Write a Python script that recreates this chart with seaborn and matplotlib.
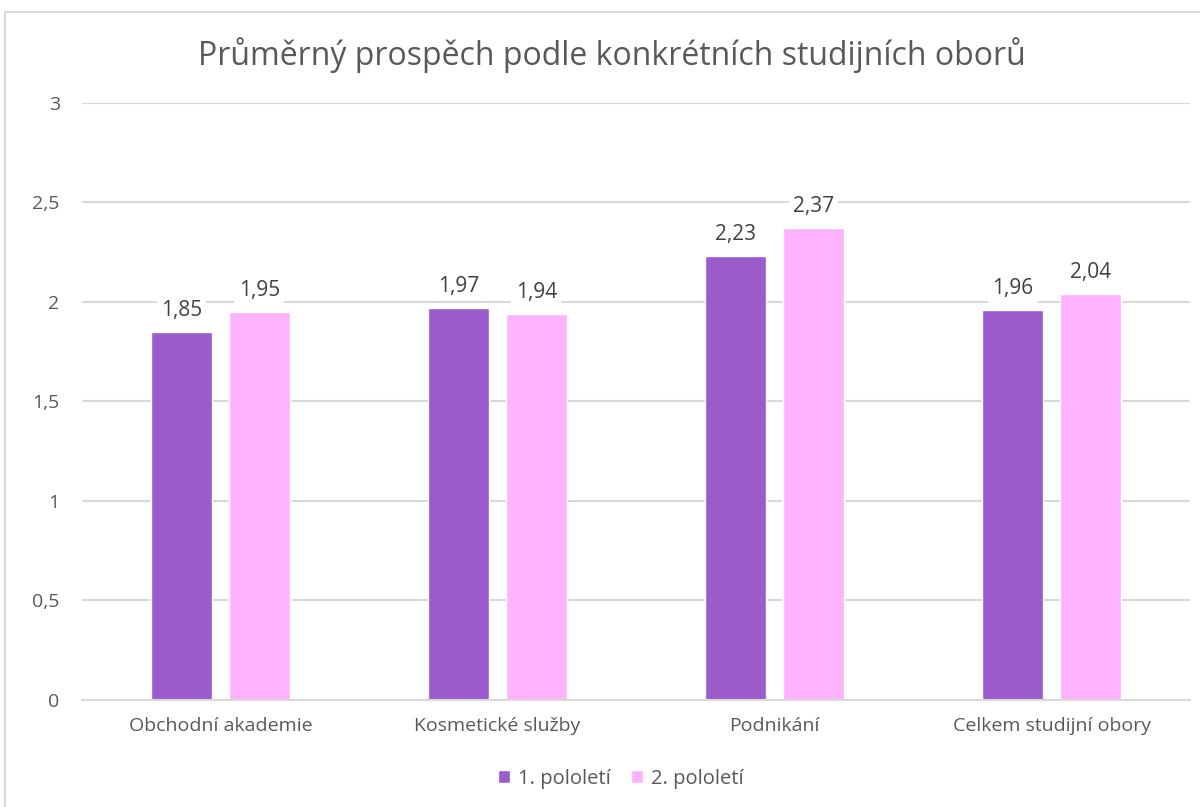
import matplotlib
matplotlib.use("Agg")
import matplotlib.pyplot as plt
import seaborn as sns
import pandas as pd
from matplotlib.patches import Rectangle

categories = ["Obchodní akademie", "Kosmetické služby", "Podnikání", "Celkem studijní obory"]
series_names = ["1. pololetí", "2. pololetí"]
values_1 = [1.85, 1.97, 2.23, 1.96]
values_2 = [1.95, 1.94, 2.37, 2.04]
yticks = [0, 0.5, 1, 1.5, 2, 2.5, 3]
ytick_labels = ["0", "0,5", "1", "1,5", "2", "2,5", "3"]
title = "Průměrný prospěch podle konkrétních studijních oborů"
colors = ["#9A5BCB", "#FFB3FF"]

df = pd.DataFrame({
    "obor": categories * 2,
    "serie": [series_names[0]] * 4 + [series_names[1]] * 4,
    "hodnota": values_1 + values_2,
})

sns.set_theme(style="white")
plt.rcParams["font.family"] = ["Open Sans", "DejaVu Sans"]

fig = plt.figure(figsize=(12, 8.07), dpi=100)
ax = fig.add_axes([0.0683, 0.1326, 0.9234, 0.7398])

sns.barplot(data=df, x="obor", y="hodnota", hue="serie", palette=colors,
            width=0.56, gap=0.214, ax=ax, saturation=1, legend=True)

ax.set_ylim(0, 3)
ax.set_xlim(-0.5, 3.5)
ax.set_yticks(yticks)
ax.set_yticklabels(ytick_labels)
ax.yaxis.grid(True, color="#D9D9D9", linewidth=1.5)
ax.set_axisbelow(True)
for s in ["top", "right", "left"]:
    ax.spines[s].set_visible(False)
ax.spines["bottom"].set_color("#D9D9D9")
ax.spines["bottom"].set_linewidth(1.5)
ax.tick_params(axis="y", length=0, labelsize=14, colors="#595959", pad=16)
ax.tick_params(axis="x", length=0, labelsize=14, colors="#595959", pad=12)
ax.set_xlabel("")
ax.set_ylabel("")

for cont in ax.containers:
    labels = [f"{v:.2f}".replace(".", ",") for v in cont.datavalues]
    ax.bar_label(cont, labels=labels, padding=8, fontsize=15, color="#404040",
                 bbox=dict(facecolor="white", edgecolor="none", pad=3))

fig.text(612 / 1200, 1 - 55 / 807, title, fontsize=23, color="#595959",
         ha="center", va="center")

handles, lbls = ax.get_legend_handles_labels()
ax.legend(handles, lbls, loc="upper center", bbox_to_anchor=(0.486, -0.085),
          ncol=2, frameon=False, fontsize=14.5, labelcolor="#595959",
          handlelength=0.6, handleheight=0.6, handletextpad=0.4, columnspacing=1.0)

fig.patches.append(Rectangle((5 / 1200, -0.1), 1.2, 1 - 12 / 807 + 0.1,
                             transform=fig.transFigure, fill=False,
                             edgecolor="#D9D9D9", linewidth=1.5, zorder=-1))

fig.savefig("out.png", dpi=100, facecolor="white")
